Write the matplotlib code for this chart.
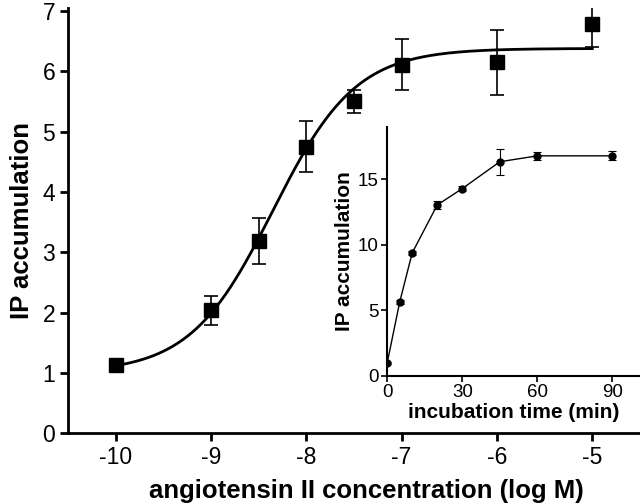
import numpy as np
import matplotlib.pyplot as plt

plt.rcParams['font.family'] = ['Liberation Sans', 'DejaVu Sans']
plt.rcParams['axes.unicode_minus'] = False

# curva dosis-respuesta (panel principal)
log_conc = [-10, -9, -8.5, -8, -7.5, -7, -6, -5]
ip_media = [1.13, 2.04, 3.18, 4.75, 5.50, 6.11, 6.15, 6.78]
ip_err = [0.06, 0.24, 0.38, 0.42, 0.19, 0.42, 0.54, 0.38]

# parametros del ajuste sigmoide
fondo, tope, logec50, hill = 1.0, 6.38, -8.35, 1.0

# curso temporal (inserto)
tiempo = [0, 5, 10, 20, 30, 45, 60, 90]
ip_tiempo = [1.0, 5.65, 9.4, 13.05, 14.3, 16.35, 16.8, 16.8]
err_tiempo = [0.1, 0.15, 0.15, 0.3, 0.2, 1.0, 0.3, 0.35]

fig = plt.figure(figsize=(6.4, 5.03), dpi=100)
ax = fig.add_axes([0.106, 0.139, 0.894, 0.845])

xc = np.linspace(-10, -5, 300)
yc = fondo + (tope - fondo) / (1 + 10 ** ((logec50 - xc) * hill))
ax.plot(xc, yc, color='black', lw=2)
ax.errorbar(log_conc, ip_media, yerr=ip_err, fmt='s', color='black',
            ms=10, capsize=5, elinewidth=1.2, capthick=1.2)

ax.set_xlim(-10.5, -4.5)
ax.set_ylim(0, 7.05)
ax.set_xticks([-10, -9, -8, -7, -6, -5])
ax.set_yticks(range(0, 8))
for s in ['top', 'right']:
    ax.spines[s].set_visible(False)
for s in ['left', 'bottom']:
    ax.spines[s].set_linewidth(2)
ax.tick_params(width=2, length=6, labelsize=16.5, pad=3)
ax.set_xlabel('angiotensin II concentration (log M)', fontsize=18.5,
              fontweight='bold')
ax.xaxis.set_label_coords(0.522, -0.108)
ax.set_ylabel('IP accumulation', fontsize=18.5, fontweight='bold', labelpad=6)

# inserto
ins = fig.add_axes([0.605, 0.2525, 0.395, 0.495])
ins.errorbar(tiempo, ip_tiempo, yerr=err_tiempo, fmt='-o', color='black',
             ms=5, lw=1, capsize=3, elinewidth=0.8, capthick=0.8)
ins.set_xlim(0, 101)
ins.set_ylim(0, 19)
ins.set_xticks([0, 30, 60, 90])
ins.set_yticks([0, 5, 10, 15])
for s in ['top', 'right']:
    ins.spines[s].set_visible(False)
for s in ['left', 'bottom']:
    ins.spines[s].set_linewidth(1.5)
ins.tick_params(width=1.2, length=4, labelsize=13.5, pad=2)
ins.set_xlabel('incubation time (min)', fontsize=15, fontweight='bold', labelpad=1)
ins.set_ylabel('IP accumulation', fontsize=15, fontweight='bold', labelpad=3)

fig.savefig('out.png', dpi=100)
